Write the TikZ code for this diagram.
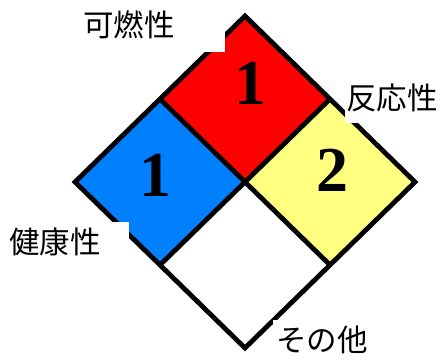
\documentclass[tikz,border=0pt]{standalone}
\usepackage{fontspec}
\setmainfont{Liberation Serif}
\newfontfamily\jp{Noto Sans CJK JP}
\definecolor{nfred}{RGB}{255,0,0}
\definecolor{nfblue}{RGB}{0,128,255}
\definecolor{nfyellow}{RGB}{255,255,128}
\begin{document}
\begin{tikzpicture}[x=1pt,y=-1pt, line join=miter,
  edge/.style={line width=4.8pt, draw=black},
  num/.style={font=\fontsize{64}{64}\selectfont\bfseries, inner sep=0pt},
  lab/.style={font=\jp\fontsize{30.5}{30.5}\selectfont, inner sep=0pt},
  cover/.style={fill=white}]
\useasboundingbox (0,0) rectangle (446,360);
\coordinate (T) at (245,16);
\coordinate (L) at (75,182);
\coordinate (R) at (415,182);
\coordinate (B) at (245,348);
\coordinate (C) at (245,182);
\coordinate (TL) at (160,99);
\coordinate (TR) at (330,99);
\coordinate (BL) at (160,265);
\coordinate (BR) at (330,265);
\fill[nfred] (T) -- (TR) -- (C) -- (TL) -- cycle;
\fill[nfblue] (TL) -- (C) -- (BL) -- (L) -- cycle;
\fill[nfyellow] (TR) -- (R) -- (BR) -- (C) -- cycle;
\fill[white] (C) -- (BR) -- (B) -- (BL) -- cycle;
\draw[edge] (T) -- (R) -- (B) -- (L) -- cycle;
\draw[edge] (TL) -- (BR);
\draw[edge] (TR) -- (BL);
\node[num] (nred) at (250,83) {1};
\node[num] (nblue) at (155,175) {1};
\node[num] (nyel) at (332,170) {2};
\fill[cover] (0,0) rectangle (225,52);
\fill[cover] (345,78) rectangle (446,123);
\fill[cover] (0,222) rectangle (129,262);
\fill[cover] (273,320) rectangle (446,360);
\node[lab] (flam) at (129,25) {可燃性};
\node[lab] (reac) at (392,98) {反応性};
\node[lab] (heal) at (55,242) {健康性};
\node[lab] (other) at (322,340) {その他};
\end{tikzpicture}
\end{document}
